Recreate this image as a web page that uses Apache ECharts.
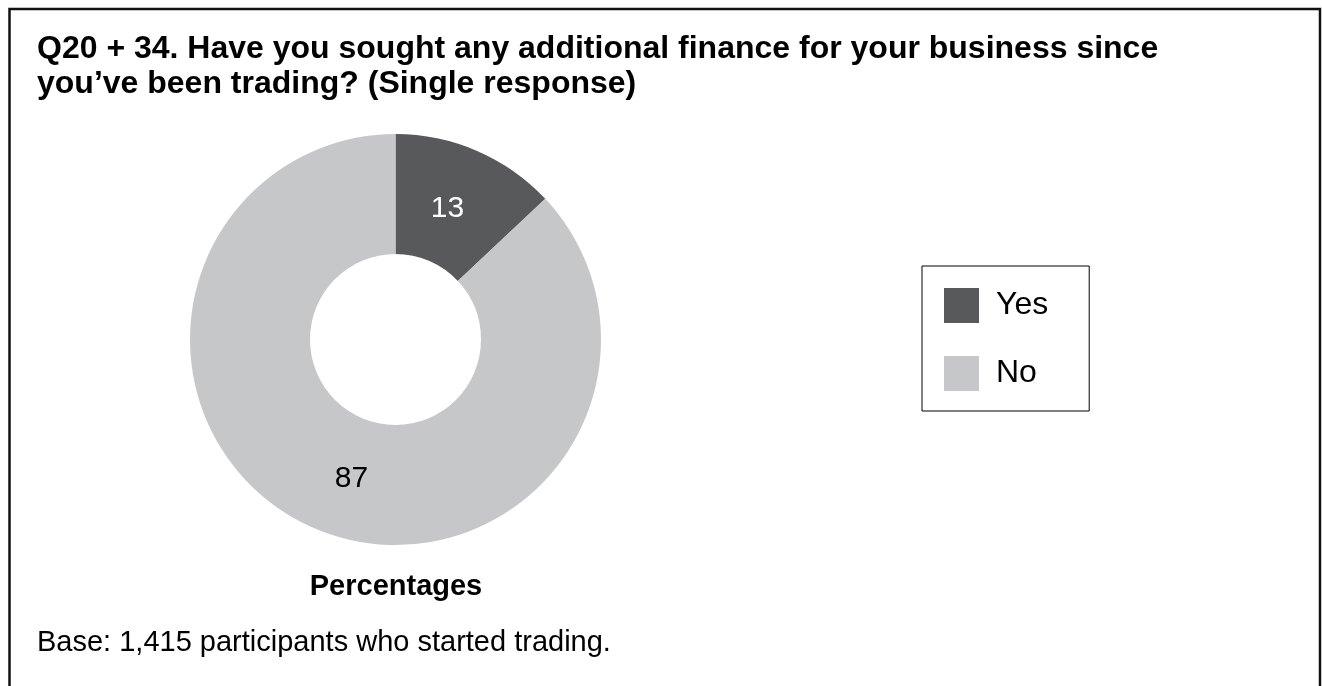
<!DOCTYPE html>
<html>
<head>
<meta charset="utf-8">
<script src="https://cdn.jsdelivr.net/npm/echarts@6/dist/echarts.min.js"></script>
<style>
  html, body { margin: 0; padding: 0; background: #fff; }
  #chart { width: 1322px; height: 686px; }
</style>
</head>
<body>
<div id="chart"></div>
<script>
// data
const categories = ["Yes", "No"];
const values = [13, 87];

// styling per slice
const sliceColors = ["#58595b", "#c6c7c8"];
const labelColors = ["#ffffff", "#000000"];
const labelOffsets = [[-7, 6], [15, 3]];

const titleText = "Q20 + 34. Have you sought any additional finance for your business since\nyou\u2019ve been trading? (Single response)";
const subText = "Percentages";
const baseText = "Base: 1,415 participants who started trading.";

const font = "Arial, 'Liberation Sans', Helvetica, sans-serif";

const pieData = categories.map((name, i) => ({
  name: name,
  value: values[i],
  itemStyle: { color: sliceColors[i] },
  label: { color: labelColors[i], offset: labelOffsets[i] },
}));

const chart = echarts.init(document.getElementById("chart"));

chart.setOption({
  animation: false,
  backgroundColor: "#fff",
  textStyle: { fontFamily: font },
  title: [
    {
      text: titleText,
      left: 32,
      top: 27,
      textStyle: { fontSize: 32, fontWeight: "bold", color: "#000", lineHeight: 35, fontFamily: font },
    },
    {
      text: subText,
      left: 391,
      top: 567,
      textAlign: "center",
      textStyle: { fontSize: 29, fontWeight: "bold", color: "#000", fontFamily: font },
    },
    {
      text: baseText,
      left: 32,
      top: 623,
      textStyle: { fontSize: 29, fontWeight: "normal", color: "#000", fontFamily: font },
    },
  ],
  legend: {
    orient: "vertical",
    left: 922,
    top: 266,
    data: categories,
    icon: "rect",
    itemWidth: 35,
    itemHeight: 35,
    itemGap: 33,
    padding: [22, 41, 20, 22],
    borderColor: "#000",
    borderWidth: 1,
    selectedMode: false,
    itemStyle: { borderWidth: 0 },
    textStyle: { fontSize: 32, color: "#000", padding: [4, 0, 0, 12], fontFamily: font },
  },
  graphic: [
    {
      type: "polyline",
      shape: { points: [[9.5, 686], [9.5, 9], [1320, 9], [1320, 686]] },
      style: { stroke: "#111", lineWidth: 2.5, fill: null },
      silent: true,
    },
  ],
  series: [
    {
      type: "pie",
      center: [395.5, 339.5],
      radius: [85.5, 205.5],
      startAngle: 90,
      clockwise: true,
      data: pieData,
      label: {
        show: true,
        position: "inside",
        formatter: "{c}",
        fontSize: 30,
        fontFamily: font,
      },
      labelLine: { show: false },
      emphasis: { disabled: true },
      itemStyle: { borderWidth: 0 },
    },
  ],
});

window.addEventListener("resize", () => chart.resize());
</script>
</body>
</html>
